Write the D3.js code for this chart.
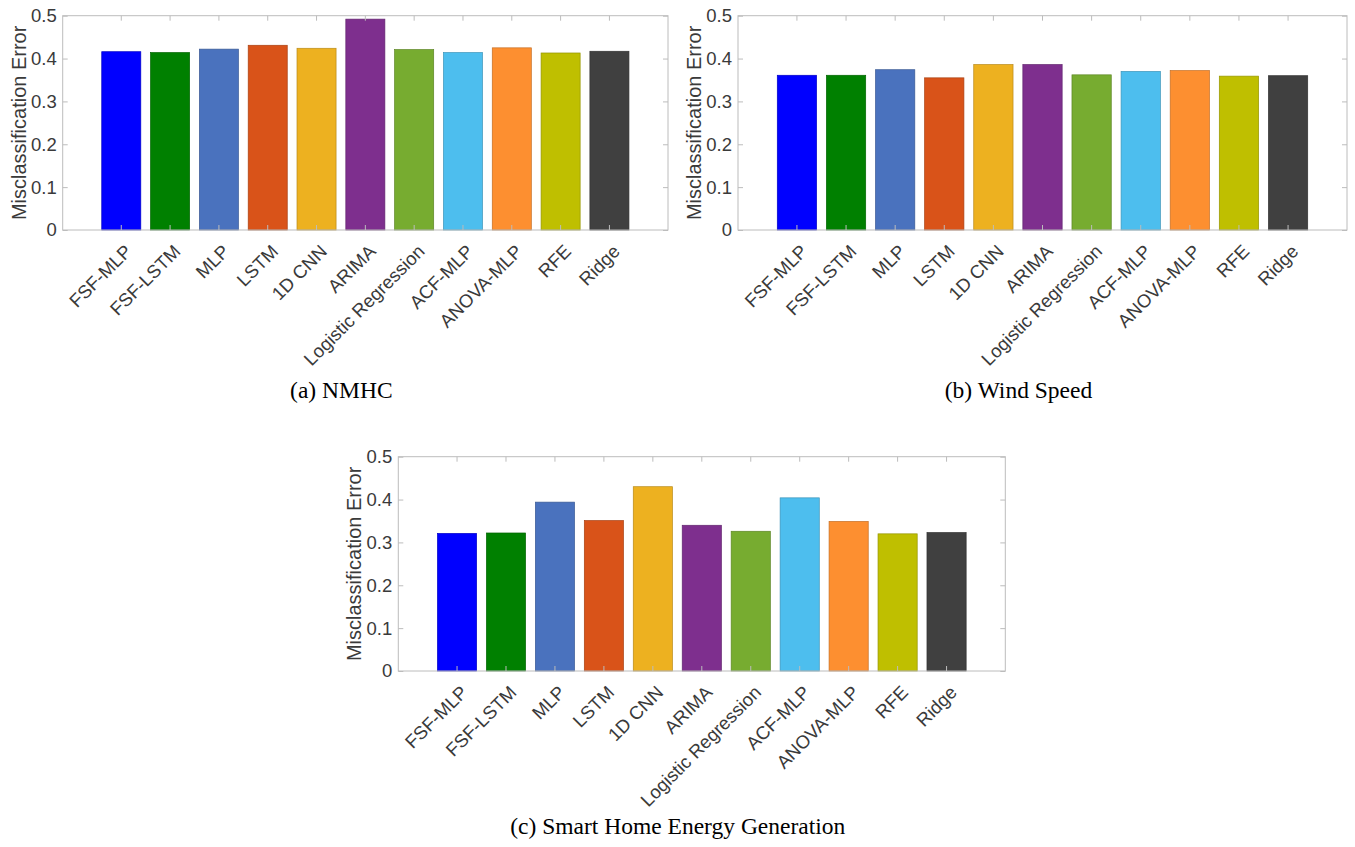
<!DOCTYPE html>
<html>
<head>
<meta charset="utf-8">
<script src="https://cdn.jsdelivr.net/npm/d3@7"></script>
<style>
  body { margin: 0; background: #fff; }
  svg { display: block; }
</style>
</head>
<body>
<div id="chart"></div>
<script>
const categories = ["FSF-MLP", "FSF-LSTM", "MLP", "LSTM", "1D CNN", "ARIMA",
  "Logistic Regression", "ACF-MLP", "ANOVA-MLP", "RFE", "Ridge"];

const nmhc = [0.416, 0.414, 0.422, 0.431, 0.424, 0.492, 0.421, 0.414, 0.425, 0.413, 0.417];
const windSpeed = [0.361, 0.361, 0.374, 0.355, 0.386, 0.386, 0.362, 0.370, 0.372, 0.359, 0.360];
const smartHome = [0.321, 0.322, 0.394, 0.351, 0.430, 0.340, 0.326, 0.404, 0.349, 0.320, 0.323];

const barColors = ["#0000ff", "#008000", "#4a72be", "#d95319", "#edb120", "#7e2f8e",
  "#77ac30", "#4dbeee", "#fd8f30", "#bfbf00", "#404040"];

const yTicks = [0, 0.1, 0.2, 0.3, 0.4, 0.5];
const yLabel = "Misclassification Error";
const captions = ["(a) NMHC", "(b) Wind Speed", "(c) Smart Home Energy Generation"];

const W = 1355, H = 847;

const svg = d3.select("#chart")
  .append("svg")
  .attr("width", W)
  .attr("height", H);

// plot boxes: left, right, top, bottom (pixels)
const panels = [
  { values: nmhc, box: [62.7, 668, 15.7, 230], caption: captions[0], capY: 398 },
  { values: windSpeed, box: [738, 1347, 15.7, 230], caption: captions[1], capY: 398 },
  { values: smartHome, box: [398.3, 1005.3, 456.7, 671], caption: captions[2], capY: 834 }
];

const tickFont = "'Liberation Sans', Arial, Helvetica, sans-serif";
const boxColor = "#bcbcbc";
const textColor = "#3a3a3a";

panels.forEach(p => drawPanel(p));

function drawPanel(p) {
  const [left, right, top, bottom] = p.box;

  const x = d3.scaleBand()
    .domain(categories)
    .range([left, right])
    .paddingInner(0.2)
    .paddingOuter(0.8);

  const y = d3.scaleLinear()
    .domain([0, 0.5])
    .range([bottom, top]);

  const g = svg.append("g");

  // bars
  g.selectAll("rect.bar")
    .data(p.values)
    .join("rect")
    .attr("class", "bar")
    .attr("x", (d, i) => x(categories[i]))
    .attr("y", d => y(d))
    .attr("width", x.bandwidth())
    .attr("height", d => y(0) - y(d))
    .attr("fill", (d, i) => barColors[i])
    .attr("stroke", (d, i) => d3.color(barColors[i]).darker(0.7))
    .attr("stroke-width", 0.7);

  const fmt = d => d === 0 ? "0" : d3.format(".1f")(d);

  // left axis with inward ticks
  const yAxisL = g.append("g")
    .attr("transform", "translate(" + left + ",0)")
    .call(d3.axisLeft(y).tickValues(yTicks).tickFormat(fmt).tickSizeInner(-5).tickSizeOuter(0).tickPadding(6));

  // right axis, ticks only
  const yAxisR = g.append("g")
    .attr("transform", "translate(" + right + ",0)")
    .call(d3.axisRight(y).tickValues(yTicks).tickFormat("").tickSizeInner(-5).tickSizeOuter(0));

  // bottom and top category ticks
  const xAxisB = g.append("g")
    .attr("transform", "translate(0," + bottom + ")")
    .call(d3.axisBottom(x).tickSizeInner(-5).tickSizeOuter(0).tickFormat(""));

  const xAxisT = g.append("g")
    .attr("transform", "translate(0," + top + ")")
    .call(d3.axisTop(x).tickSizeInner(-5).tickSizeOuter(0).tickFormat(""));

  [yAxisL, yAxisR, xAxisB, xAxisT].forEach(a => {
    a.select(".domain").remove();
    a.selectAll("line").attr("stroke", boxColor);
  });

  yAxisL.selectAll("text")
    .attr("font-family", tickFont)
    .attr("font-size", 18.5)
    .attr("fill", textColor);

  // box
  g.append("rect")
    .attr("x", left)
    .attr("y", top)
    .attr("width", right - left)
    .attr("height", bottom - top)
    .attr("fill", "none")
    .attr("stroke", boxColor)
    .attr("stroke-width", 1);

  // rotated category labels
  g.selectAll("text.cat")
    .data(categories)
    .join("text")
    .attr("class", "cat")
    .attr("transform", d => "translate(" + (x(d) + x.bandwidth() / 2 + 7) + "," + (bottom + 18) + ") rotate(-45)")
    .attr("text-anchor", "end")
    .attr("dy", "0.35em")
    .attr("font-family", tickFont)
    .attr("font-size", 18.5)
    .attr("fill", textColor)
    .text(d => d);

  // y axis title
  g.append("text")
    .attr("transform", "translate(" + (left - 37) + "," + ((top + bottom) / 2) + ") rotate(-90)")
    .attr("text-anchor", "middle")
    .attr("font-family", tickFont)
    .attr("font-size", 20)
    .attr("fill", textColor)
    .text(yLabel);

  // caption
  g.append("text")
    .attr("x", (left + right) / 2 - 24)
    .attr("y", p.capY)
    .attr("text-anchor", "middle")
    .attr("font-family", "'Liberation Serif', 'Times New Roman', serif")
    .attr("font-size", 23.5)
    .attr("fill", "#000")
    .text(p.caption);
}
</script>
</body>
</html>
